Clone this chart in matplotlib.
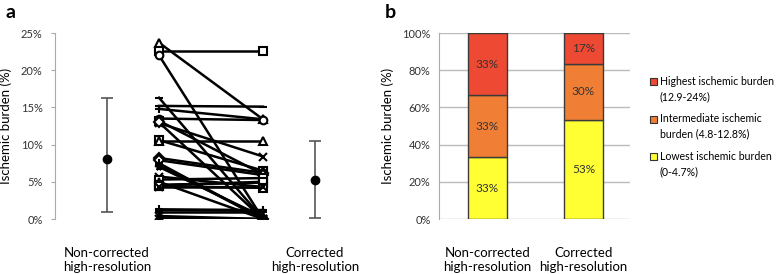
import numpy as np
import matplotlib
matplotlib.use("Agg")
from matplotlib import pyplot as plt
from matplotlib.patches import Rectangle

plt.rcParams['font.family'] = ['Lato', 'DejaVu Sans']

# panel a: per-patient ischemic burden (%), non-corrected -> corrected
noncorr = [23.7, 22.6, 22.0, 16.3, 15.2, 14.8, 13.5, 13.2, 12.9, 13.0,
           10.6, 10.5, 8.2, 7.9, 7.5, 7.3, 7.0, 5.7, 5.3, 5.0,
           4.6, 4.5, 4.4, 4.3, 1.3, 1.2, 1.0, 0.4, 0.1, 0.0]
corr = [13.4, 22.6, 0.0, 0.0, 15.1, 13.4, 13.3, 6.0, 8.4, 0.0,
        6.5, 10.5, 6.2, 5.9, 0.0, 0.0, 0.3, 4.3, 5.5, 0.0,
        4.9, 5.0, 4.2, 4.3, 1.2, 1.1, 1.0, 0.0, 0.0, 0.0]
markers = ['^', 's', 'o', '_', '_', '+', 'o', 's', 'x', 'D',
           's', '^', 'D', 'D', '+', '+', '*', 'x', 's', '*',
           's', 's', 's', 'x', '+', '_', '+', 'x', '4', 'x']

# mean with lower / upper whisker
mean_nc, low_nc, high_nc = 8.1, 1.0, 16.2
mean_c, low_c, high_c = 5.3, 0.1, 10.5

# panel b: share of patients per burden class
groups = ['Non-corrected\nhigh-resolution', 'Corrected\nhigh-resolution']
lowest = [33.3, 53.3]
intermediate = [33.3, 30.0]
highest = [33.3, 16.7]
seg_labels = [['33%', '33%', '33%'], ['53%', '30%', '17%']]
legend_names = ['Highest ischemic burden\n(12.9-24%)',
                'Intermediate ischemic\nburden (4.8-12.8%)',
                'Lowest ischemic burden\n(0-4.7%)']
colors = ['#FFFF33', '#F07F35', '#EE4A33']  # lowest, intermediate, highest

fig = plt.figure(figsize=(7.78, 2.74), dpi=100)
W, H = 778., 274.

# ---------------- panel a ----------------
ax = fig.add_axes([55/W, (274-219)/H, 312/W, 186/H])
for l, r, m in zip(noncorr, corr, markers):
    ax.plot([1, 3], [l, r], color='black', lw=1.8, marker=m, ms=5.5,
            mfc='white', mec='black', mew=1.5, zorder=3)
ax.errorbar([0], [mean_nc], yerr=[[mean_nc-low_nc], [high_nc-mean_nc]],
            fmt='o', color='black', ms=6, ecolor='#555555', elinewidth=1.2,
            capsize=4, capthick=1.2)
ax.errorbar([4], [mean_c], yerr=[[mean_c-low_c], [high_c-mean_c]],
            fmt='o', color='black', ms=6, ecolor='#555555', elinewidth=1.2,
            capsize=4, capthick=1.2)
ax.set_xlim(-1, 5)
ax.set_ylim(0, 25)
ax.set_yticks(np.arange(0, 26, 5))
ax.set_yticklabels(['%d%%' % v for v in range(0, 26, 5)], fontsize=8)
ax.set_xticks([0, 4])
ax.set_xticklabels(groups, fontsize=9.5)
ax.tick_params(axis='x', length=0, pad=20)
ax.tick_params(axis='y', length=3, color='#aaaaaa', pad=6, labelcolor='#333333')
for s in ['top', 'right', 'bottom']:
    ax.spines[s].set_visible(False)
ax.spines['left'].set_color('#aaaaaa')
ax.set_ylabel('Ischemic burden (%)', fontsize=9.5, labelpad=6)
ax.patch.set_alpha(0)
fig.text(5/W, 1-18/H, 'a', fontsize=14, fontweight='bold')

# ---------------- panel b ----------------
bx = fig.add_axes([439/W, (274-219)/H, 191/W, 186/H])
x = np.arange(len(groups))
bottoms = np.zeros(len(groups))
for k, vals in enumerate([lowest, intermediate, highest]):
    bx.bar(x, vals, width=0.41, bottom=bottoms, color=colors[k],
           edgecolor='#3a3a3a', linewidth=1.0, zorder=3)
    for i in range(len(groups)):
        bx.text(x[i], bottoms[i] + vals[i]/2, seg_labels[i][k],
                ha='center', va='center', fontsize=8.5, color='#333333', zorder=4)
    bottoms = bottoms + np.array(vals)
bx.set_xlim(-0.505, 1.485)
bx.set_ylim(0, 100)
bx.set_yticks(np.arange(0, 101, 20))
bx.set_yticklabels(['%d%%' % v for v in range(0, 101, 20)], fontsize=8)
bx.yaxis.grid(True, color='#bbbbbb', lw=1.0, zorder=0)
bx.set_axisbelow(True)
bx.set_xticks(x)
bx.set_xticklabels(groups, fontsize=9.5)
bx.tick_params(axis='x', length=0, pad=20)
bx.tick_params(axis='y', length=0, pad=6, labelcolor='#333333')
for s in ['top', 'right', 'bottom']:
    bx.spines[s].set_visible(False)
bx.spines['left'].set_color('#aaaaaa')
bx.set_ylabel('Ischemic burden (%)', fontsize=9.5, labelpad=6)
fig.text(385/W, 1-18/H, 'b', fontsize=14, fontweight='bold')

# legend drawn by hand (square next to first text line)
leg_colors = colors[::-1]
for j, (name, c) in enumerate(zip(legend_names, leg_colors)):
    ytop = 76 + j*37.5
    fig.patches.append(Rectangle((650/W, 1-(ytop+9)/H), 7/W, 7/H,
                                 transform=fig.transFigure, facecolor=c,
                                 edgecolor='#333333', lw=0.8))
    fig.text(660/W, 1-ytop/H, name, fontsize=7.6, va='top', ha='left',
             linespacing=1.45)

fig.savefig('out.png', dpi=100)
